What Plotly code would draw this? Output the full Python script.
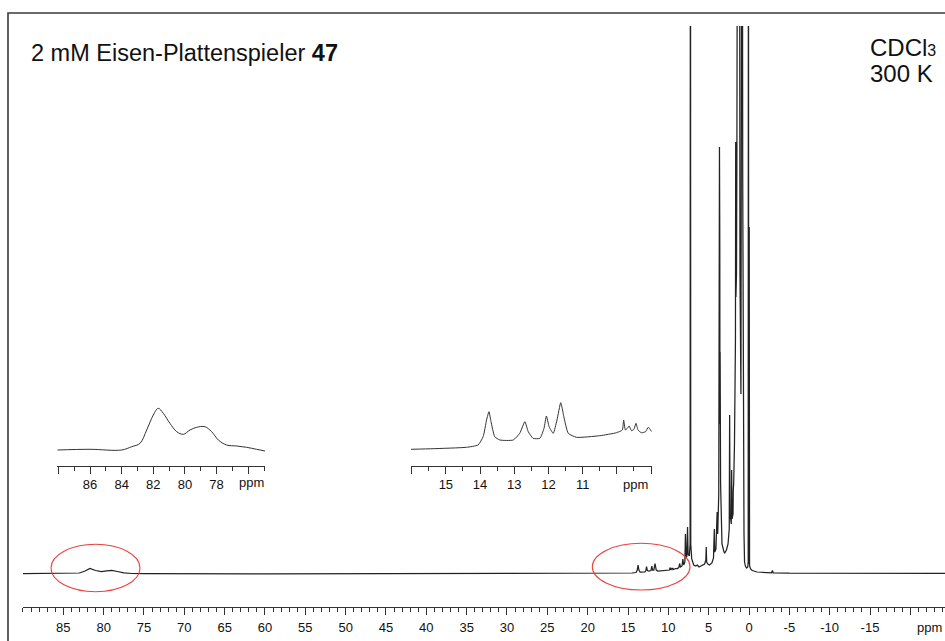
import plotly.graph_objects as go

# ---------------- data ----------------
# main 1H spectrum: chemical shift (ppm) and intensity (arbitrary units, baseline = 0)
SPEC_PPM = [90.0, 86.0, 84.0, 83.0, 82.3, 81.7, 81.0, 80.3, 79.6, 79.0, 78.3, 77.5, 76.5, 75.0,
            60.0, 45.0, 30.0, 20.0, 16.0, 14.5, 14.0, 13.85, 13.75, 13.65, 13.5, 12.9, 12.78,
            12.7, 12.6, 12.4, 12.15, 12.05, 11.95, 11.8, 11.65, 11.5, 11.3, 10.5, 10.0, 9.85,
            9.8, 9.75, 9.64, 9.55, 9.45, 9.35, 9.1, 8.9, 8.7, 8.6, 8.5, 8.3, 8.2, 8.1, 7.95,
            7.88, 7.8, 7.7, 7.62, 7.55, 7.40, 7.30, 7.26, 7.22, 7.1, 7.0, 6.85, 6.6, 6.4, 6.2,
            6.0, 5.7, 5.5, 5.35, 5.3, 5.25, 5.1, 4.9, 4.6, 4.4, 4.3, 4.25, 4.1, 3.95, 3.88,
            3.75, 3.70, 3.68, 3.66, 3.64, 3.62, 3.60, 3.58, 3.52, 3.45, 3.35, 3.1, 3.0, 2.8,
            2.6, 2.45, 2.40, 2.35, 2.2, 2.15, 2.1, 1.98, 1.95, 1.9, 1.8, 1.72, 1.68, 1.65,
            1.62, 1.58, 1.55, 1.50, 1.45, 1.40, 1.33, 1.28, 1.22, 1.12, 1.0, 0.92, 0.88,
            0.84, 0.78, 0.7, 0.62, 0.55, 0.45, 0.3, 0.15, 0.10, 0.07, 0.04, 0.0, -0.03,
            -0.07, -0.2, -0.4, -1.0, -2.0, -2.8, -2.9, -3.0, -5.0, -10.0, -24.3]
SPEC_INT = [0.3, 0.3, 0.5, 1.0, 3.0, 5.5, 3.5, 2.5, 3.2, 3.5, 2.5, 1.2, 0.5, 0.3,
            0.2, 0.3, 0.2, 0.3, 0.6, 1.0, 1.5, 4, 9, 4, 2, 2.2, 3.5,
            7.5, 3.5, 2.8, 3.5, 8, 4, 4, 10.5, 4, 3, 3.5, 4, 4,
            6.5, 4.5, 5.5, 4.5, 6, 4.5, 5.5, 5.5, 6.5, 10.5, 7, 8, 15, 9, 12,
            40, 16, 18, 47, 20, 18, 30, 900, 30, 15, 12, 9, 8, 9, 7,
            8, 9, 10, 14, 27, 12, 10, 9, 11, 16, 45, 22, 25, 62, 40,
            80, 282, 180, 427, 200, 327, 150, 222, 90, 50, 30, 22, 21, 24,
            30, 45, 159, 60, 50, 104, 55, 60, 84, 90, 130, 200, 234, 432,
            277, 334, 300, 420, 480, 650, 1200, 1500, 1200, 300, 180, 600, 1200,
            900, 400, 120, 40, 12, 8, 6, 7, 12, 900, 12, 10, 347,
            8, 5, 3.5, 2, 1.5, 1.2, 3.5, 1.2, 0.8, 0.6, 0.5]

# inset 1: 88 - 75 ppm
INSET1_PPM = [88.07, 86.0, 84.0, 83.37, 82.84, 82.42, 82.0, 81.69, 81.37, 80.95, 80.52, 80.1,
              79.68, 79.26, 78.74, 78.31, 77.89, 77.37, 76.73, 76.1, 75.47, 74.94]
INSET1_INT = [1.0, 1.7, 1.0, 4.3, 7.7, 21.0, 36.0, 42.7, 37.7, 27.7, 19.3, 16.7,
              21.0, 23.7, 24.3, 19.3, 11.0, 6.0, 5.0, 3.7, 1.7, 0.0]

# inset 2: 16 - 9 ppm
INSET2_PPM = [16.02, 15.37, 14.4, 14.06, 13.91, 13.81, 13.74, 13.68, 13.57, 13.42, 13.03, 12.84,
              12.69, 12.59, 12.45, 12.25, 12.13, 12.06, 11.98, 11.86, 11.75, 11.64, 11.55,
              11.42, 11.18, 10.5, 10.01, 9.84, 9.8, 9.75, 9.69, 9.64, 9.57, 9.5, 9.44, 9.38,
              9.28, 9.16, 9.08, 8.98]
INSET2_INT = [1.7, 2.3, 3.7, 6.0, 14.3, 31.0, 39.3, 29.3, 14.3, 11.0, 11.0, 17.7,
              29.3, 19.3, 12.7, 12.7, 22.7, 35.0, 24.3, 17.7, 31.0, 48.3, 34.3,
              17.7, 13.7, 15.3, 18.3, 21.0, 31.0, 21.0, 22.7, 25.0, 20.3, 21.7, 27.7, 21.0,
              18.3, 19.3, 23.7, 19.3]

MAIN_TICKS = [85, 80, 75, 70, 65, 60, 55, 50, 45, 40, 35, 30, 25, 20, 15, 10, 5, 0, -5, -10, -15, -20]
MAIN_LABELS = ["85", "80", "75", "70", "65", "60", "55", "50", "45", "40", "35", "30", "25",
               "20", "15", "10", "5", "0", "-5", "-10", "-15", ""]
INSET1_TICKS = [88, 86, 84, 82, 80, 78, 76]
INSET1_LABELS = ["", "86", "84", "82", "80", "78", ""]
INSET2_TICKS = [16, 15, 14, 13, 12, 11, 10, 9]
INSET2_LABELS = ["", "15", "14", "13", "12", "11", "", ""]

TITLE = "2 mM Eisen-Plattenspieler <b>47</b>"
SOLVENT = "CDCl<span style='font-size:16px'>3</span>"
TEMPERATURE = "300 K"

# ---------------- layout geometry (pixels) ----------------
W, H = 945, 641
ML, MR, MT, MB = 23, 0, 26, 34
PW, PH = W - ML - MR, H - MT - MB


def px(x):
    return (x - ML) / PW


def py(y):
    return (H - MB - y) / PH


FONT = "Liberation Sans, Arial, Helvetica, sans-serif"
LINE = "#222222"
AX = "#333333"

fig = go.Figure()
fig.add_trace(go.Scatter(x=SPEC_PPM, y=SPEC_INT, mode="lines",
                         line=dict(color=LINE, width=1.25), xaxis="x", yaxis="y",
                         hoverinfo="skip"))
fig.add_trace(go.Scatter(x=INSET1_PPM, y=INSET1_INT, mode="lines", line_shape="spline",
                         line=dict(color="#333333", width=1), xaxis="x2", yaxis="y2",
                         hoverinfo="skip"))
fig.add_trace(go.Scatter(x=INSET2_PPM, y=INSET2_INT, mode="lines", line_shape="spline",
                         line=dict(color="#333333", width=1, smoothing=0.5),
                         xaxis="x3", yaxis="y3", hoverinfo="skip"))

tickfont = dict(family=FONT, size=13, color="#111111")

fig.update_layout(
    width=W, height=H, autosize=False,
    margin=dict(l=ML, r=MR, t=MT, b=MB),
    paper_bgcolor="white", plot_bgcolor="white",
    showlegend=False,
    xaxis=dict(range=[(749 - ML) / 8.067, -(W - 749) / 8.067], domain=[0, 1],
               showgrid=False, zeroline=False, showline=True, linecolor=AX, linewidth=1,
               ticks="outside", ticklen=7, tickwidth=1, tickcolor=AX,
               tickmode="array", tickvals=MAIN_TICKS, ticktext=MAIN_LABELS,
               tickfont=tickfont, ticklabelstandoff=1,
               minor=dict(ticks="outside", ticklen=3.5, tickwidth=1, tickcolor=AX,
                          tickmode="linear", tick0=0, dtick=1, showgrid=False),
               anchor="y", fixedrange=True),
    yaxis=dict(range=[-33, PH - 33], domain=[0, 1], visible=False, fixedrange=True),
    xaxis2=dict(range=[88.07, 74.94], domain=[px(57.3), px(265)], anchor="y2",
                showgrid=False, zeroline=False, showline=True, linecolor=AX, linewidth=1,
                ticks="outside", ticklen=6.5, tickwidth=1, tickcolor=AX,
                tickmode="array", tickvals=INSET1_TICKS, ticktext=INSET1_LABELS,
                tickfont=tickfont, fixedrange=True,
                minor=dict(ticks="outside", ticklen=4, tickwidth=1, tickcolor=AX,
                           tickmode="linear", tick0=0, dtick=1, showgrid=False)),
    yaxis2=dict(range=[-15, 53], domain=[py(466), py(398)], anchor="x2", visible=False,
                fixedrange=True),
    xaxis3=dict(range=[16.02, 8.98], domain=[px(411), px(651.7)], anchor="y3",
                showgrid=False, zeroline=False, showline=True, linecolor=AX, linewidth=1,
                ticks="outside", ticklen=6.5, tickwidth=1, tickcolor=AX,
                tickmode="array", tickvals=INSET2_TICKS, ticktext=INSET2_LABELS,
                tickfont=tickfont, fixedrange=True,
                minor=dict(ticks="outside", ticklen=4, tickwidth=1, tickcolor=AX,
                           tickmode="linear", tick0=0, dtick=0.5, showgrid=False)),
    yaxis3=dict(range=[-15, 53], domain=[py(466), py(398)], anchor="x3", visible=False,
                fixedrange=True),
)

shapes = [
    # outer frame
    dict(type="rect", xref="paper", yref="paper", x0=px(8), x1=px(990), y0=py(700), y1=py(13),
         line=dict(color="#3a3a3a", width=1.6), fillcolor="rgba(0,0,0,0)", layer="above"),
    # red ellipses highlighting the paramagnetic signals
    dict(type="circle", xref="x", yref="y", x0=(749 - 51) / 8.067, x1=(749 - 140) / 8.067,
         y0=574 - 591.7, y1=574 - 544.3, line=dict(color="#e8423f", width=1.1)),
    dict(type="circle", xref="x", yref="y", x0=(749 - 592.3) / 8.067, x1=(749 - 690) / 8.067,
         y0=574 - 590, y1=574 - 543.3, line=dict(color="#e8423f", width=1.1)),
]
fig.update_layout(shapes=shapes)

ann = [
    dict(text=TITLE, x=px(29), y=py(53), xanchor="left", yanchor="middle",
         font=dict(family=FONT, size=23.5, color="#111111")),
    dict(text=SOLVENT, x=px(868), y=py(47), xanchor="left", yanchor="middle",
         font=dict(family=FONT, size=24, color="#111111")),
    dict(text=TEMPERATURE, x=px(868), y=py(73), xanchor="left", yanchor="middle",
         font=dict(family=FONT, size=24, color="#111111")),
    dict(text="ppm", x=px(944), y=py(627), xanchor="right", yanchor="middle",
         font=tickfont),
    dict(text="ppm", x=px(251.7), y=py(482), xanchor="center", yanchor="middle",
         font=tickfont),
    dict(text="ppm", x=px(635), y=py(484), xanchor="center", yanchor="middle",
         font=tickfont),
]
for a in ann:
    a.update(xref="paper", yref="paper", showarrow=False)
fig.update_layout(annotations=ann)

# the page body has a default 8px margin; remove it so the figure sits at the window origin
fig.write_html("out.html", config={"displayModeBar": False, "staticPlot": True},
               post_script="document.body.style.margin='0';")
